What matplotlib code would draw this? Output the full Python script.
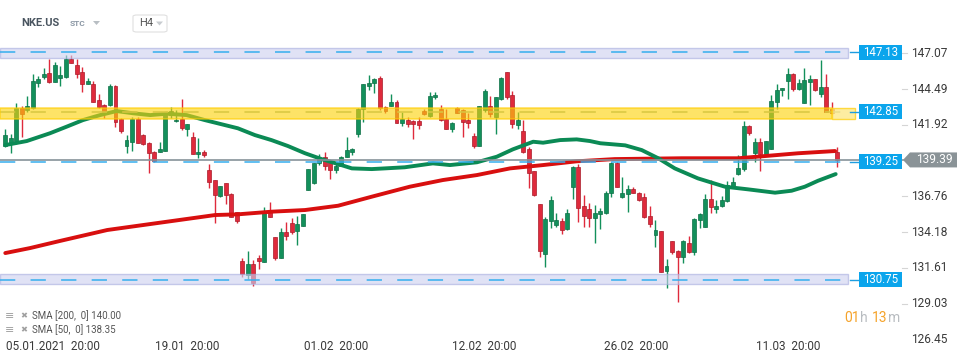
import matplotlib.pyplot as plt
from matplotlib.patches import Rectangle, Polygon, FancyBboxPatch
from matplotlib.transforms import blended_transform_factory as blend

plt.rcParams['font.family'] = ['Roboto', 'DejaVu Sans']

# H4 candles NKE.US, 05.01.2021 - 18.03.2021
opens = [140.37, 140.58, 140.75, 143.15, 142.96, 143.15, 144.95, 145.39, 145.63, 145.03,
         145.32, 145.39, 146.66, 146.23, 145.70, 144.88, 144.86, 143.71, 143.32, 143.35,
         144.71, 142.34, 140.42, 140.70, 142.34, 141.18, 140.58, 139.94, 139.98, 140.06,
         142.63, 142.19, 142.34, 141.62, 141.02, 139.79, 139.96, 138.66, 137.94, 136.81,
         137.70, 136.93, 135.61, 132.11, 131.10, 131.89, 132.32, 132.06, 135.73, 133.81,
         132.35, 134.17, 134.82, 134.29, 134.65, 137.24, 137.75, 139.14, 139.57, 139.26,
         138.66, 138.95, 139.57, 139.96, 141.28, 143.03, 144.71, 144.95, 145.27, 143.23,
         143.30, 143.56, 142.07, 142.26, 142.22, 142.22, 142.91, 142.55, 143.90, 143.06,
         142.31, 141.64, 143.15, 142.99, 142.29, 141.11, 140.41, 142.99, 143.27, 142.50,
         143.75, 145.70, 144.07, 141.90, 141.47, 140.15, 138.59, 136.19, 132.59, 135.01,
         134.68, 134.99, 134.39, 137.41, 138.85, 136.07, 135.83, 135.18, 135.47, 135.54,
         136.98, 139.14, 136.74, 136.91, 137.27, 136.98, 136.74, 135.35, 133.96, 134.27,
         131.41, 133.55, 132.83, 132.37, 133.43, 132.78, 135.06, 134.58, 136.55, 135.88,
         136.09, 136.41, 137.46, 138.35, 138.71, 141.83, 139.91, 140.66, 139.82, 140.20,
         143.59, 144.40, 145.10, 145.58, 144.47, 143.47, 145.03, 145.22, 144.11, 144.62,
         143.03, 139.98]
highs = [141.62, 141.23, 143.47, 143.27, 143.97, 145.58, 145.46, 145.99, 146.66, 146.42,
         146.13, 146.95, 146.95, 146.66, 146.08, 145.27, 145.10, 144.11, 143.39, 144.86,
         144.79, 142.43, 141.18, 142.50, 142.50, 141.23, 140.70, 140.06, 140.68, 142.87,
         143.20, 142.98, 143.78, 141.95, 141.38, 140.94, 140.10, 139.09, 137.94, 137.53,
         137.75, 136.98, 135.66, 132.30, 132.83, 132.18, 132.51, 136.00, 136.33, 133.86,
         134.46, 134.94, 135.18, 135.35, 135.49, 138.77, 139.19, 139.79, 139.94, 139.38,
         139.14, 139.67, 141.02, 140.25, 143.11, 144.86, 145.51, 145.27, 145.43, 143.27,
         144.14, 143.71, 142.86, 142.50, 142.26, 142.46, 143.03, 144.26, 144.26, 143.32,
         143.06, 142.14, 143.23, 143.03, 142.74, 141.30, 143.27, 144.47, 143.99, 143.95,
         145.39, 145.70, 144.35, 142.82, 142.26, 140.30, 138.59, 136.21, 135.30, 136.79,
         135.54, 135.18, 135.83, 138.97, 139.07, 136.86, 136.26, 136.14, 135.90, 137.15,
         139.26, 139.26, 138.18, 137.58, 137.46, 137.10, 137.03, 136.07, 135.06, 134.27,
         132.25, 133.55, 132.90, 133.62, 133.91, 135.18, 135.54, 136.93, 137.94, 136.50,
         136.79, 137.87, 138.18, 139.74, 142.19, 141.93, 140.94, 140.94, 140.78, 144.07,
         144.86, 144.59, 145.99, 145.63, 145.22, 145.99, 145.51, 145.22, 146.59, 145.58,
         143.54, 140.29]
lows = [140.33, 139.86, 140.55, 141.06, 142.87, 143.06, 144.67, 145.19, 144.91, 144.98,
        144.74, 145.32, 146.35, 145.27, 144.31, 144.83, 143.59, 143.10, 142.43, 143.30,
        141.78, 141.35, 139.86, 140.03, 140.58, 140.46, 138.42, 139.21, 139.98, 140.06,
        142.38, 142.10, 141.54, 141.14, 139.79, 139.55, 139.62, 137.39, 134.82, 136.74,
        136.19, 135.25, 134.87, 130.98, 130.83, 130.33, 131.53, 132.06, 135.25, 132.18,
        132.35, 133.62, 134.05, 133.26, 134.65, 137.24, 137.65, 139.02, 138.66, 138.01,
        138.47, 138.95, 139.57, 139.74, 141.06, 142.14, 144.43, 144.23, 142.99, 142.74,
        143.30, 142.07, 141.86, 141.78, 140.90, 141.62, 142.60, 142.50, 143.75, 142.22,
        141.64, 141.42, 142.74, 141.06, 141.66, 140.22, 140.41, 142.86, 142.50, 141.26,
        143.71, 143.80, 141.66, 141.62, 139.91, 137.39, 136.81, 132.42, 131.65, 134.51,
        134.58, 134.03, 134.34, 136.60, 134.94, 134.58, 134.58, 133.38, 134.41, 135.49,
        136.74, 137.46, 136.62, 135.66, 136.98, 136.45, 135.18, 134.53, 133.14, 131.29,
        130.18, 132.59, 129.18, 131.94, 132.66, 132.54, 134.46, 134.58, 135.54, 135.54,
        136.02, 136.38, 137.34, 138.30, 138.61, 141.16, 139.26, 138.61, 139.72, 140.20,
        143.03, 144.02, 143.78, 144.38, 144.43, 143.47, 143.34, 144.38, 143.90, 142.84,
        142.70, 138.90]
closes = [141.18, 140.94, 143.15, 142.67, 143.27, 145.07, 145.22, 145.58, 145.03, 146.23,
          145.51, 146.66, 146.40, 145.60, 144.88, 145.07, 143.59, 143.20, 142.82, 144.71,
          142.14, 141.47, 140.82, 142.34, 140.63, 140.56, 139.86, 139.31, 140.18, 142.74,
          142.94, 142.29, 141.71, 141.95, 139.79, 139.96, 139.74, 137.82, 136.84, 137.51,
          136.84, 135.30, 135.01, 131.17, 131.89, 130.55, 132.08, 135.73, 135.30, 132.35,
          134.17, 133.93, 134.20, 134.77, 135.47, 138.77, 139.14, 139.55, 138.95, 138.66,
          138.95, 139.62, 140.10, 140.20, 143.06, 144.83, 144.93, 145.19, 143.10, 142.94,
          143.56, 142.07, 142.31, 141.98, 141.98, 141.90, 142.67, 143.99, 144.09, 142.26,
          141.64, 142.07, 142.79, 142.14, 142.07, 140.41, 143.25, 144.35, 142.67, 143.90,
          145.27, 143.95, 141.98, 142.26, 139.98, 138.42, 136.86, 132.85, 135.11, 136.50,
          135.06, 134.36, 135.54, 138.85, 135.95, 135.33, 135.23, 135.59, 135.69, 137.03,
          139.14, 137.46, 137.01, 137.27, 137.03, 136.50, 135.26, 134.77, 134.34, 131.34,
          131.75, 132.73, 132.37, 133.55, 132.78, 135.11, 135.49, 136.55, 135.97, 136.09,
          136.50, 137.58, 137.80, 138.78, 141.81, 141.35, 140.66, 139.84, 140.75, 143.63,
          144.43, 144.57, 145.58, 144.47, 144.95, 145.15, 145.24, 144.40, 144.67, 142.86,
          142.74, 139.38]

# moving averages (candle index, price)
sma200_x = [0, 4.5, 9.9, 18.5, 26.3, 38.1, 42.2, 48.3, 54.4, 60.4, 66.5, 73.4, 79.4,
            85.6, 91.6, 97.6, 103.7, 110.6, 122.8, 133.0, 137.9, 143.9, 150.6]
sma200_y = [132.68, 133.04, 133.55, 134.34, 134.77, 135.42, 135.47, 135.66, 135.78,
            136.09, 136.74, 137.46, 137.94, 138.30, 138.78, 139.02, 139.29, 139.45,
            139.51, 139.51, 139.67, 139.87, 140.03]
sma50_x = [0, 3.9, 8.1, 11.1, 14.1, 17.2, 20.2, 23.2, 26.3, 29.3, 32.9, 36.2, 42.2, 45.3,
           48.3, 51.3, 54.4, 57.4, 60.4, 62.9, 66.5, 68.9, 72.5, 77.6, 80.7, 85.6, 89.2,
           92.1, 95.8, 97.6, 100.7, 103.7, 106.1, 108.0, 112.5, 115.5, 118.5, 121.5,
           125.7, 130.6, 134.8, 139.7, 142.7, 145.1, 147.5, 150.7]
sma50_y = [140.46, 140.75, 141.31, 141.78, 142.26, 142.62, 142.91, 142.75, 142.62, 142.72,
           142.62, 142.26, 141.67, 141.18, 140.82, 140.39, 139.87, 139.45, 139.09, 138.78,
           138.73, 138.78, 138.86, 139.14, 139.02, 139.22, 139.62, 140.15, 140.70, 140.63,
           140.82, 140.87, 140.75, 140.59, 140.44, 140.10, 139.51, 138.78, 138.06, 137.46,
           137.27, 137.03, 137.17, 137.46, 137.89, 138.37]

x_tick_pos = [0, 27, 54, 81, 108.5, 136]
x_tick_labels = ['05.01.2021  20:00', '19.01  20:00', '01.02  20:00',
                 '12.02  20:00', '26.02  20:00', '11.03  20:00']
y_tick_vals = [147.07, 144.49, 141.92, 136.76, 134.18, 131.61, 129.03, 126.45]

resistance = [147.13, 130.75]
resistance_band = [(146.71, 147.47), (130.43, 131.15)]
support_mid = 139.25
yellow_level = 142.85
yellow_band = (142.32, 143.15)
last_price = 139.39

W, H = 970, 364


def fx(px):
    return px / W


def fy(py):
    return 1 - py / H


green, green_edge = '#13905b', '#0d6e45'
red, red_edge = '#df2a3c', '#a81c2a'
blue = '#0ba5ec'

fig = plt.figure(figsize=(9.7, 3.64), dpi=100)
ax = fig.add_axes([0, 26 / H, 850 / W, 298 / H])
ax.set_xlim(-0.96, 153.3)
ax.set_ylim(126.56, 148.03)
ax.axis('off')
bt = blend(fig.transFigure, ax.transData)

# candles
for i, (o, h, l, c) in enumerate(zip(opens, highs, lows, closes)):
    up = c >= o
    ax.vlines(i, l, h, color=green if up else red, lw=1, zorder=2)
    ax.bar(i, max(abs(c - o), 0.07), bottom=min(o, c), width=0.72,
           color=green if up else red, edgecolor=green_edge if up else red_edge,
           lw=0.5, zorder=2.1)

ax.plot(sma200_x, sma200_y, color='#d80f0f', lw=2.8, solid_capstyle='round', zorder=3)
ax.plot(sma50_x, sma50_y, color='#0b8a55', lw=2.8, solid_capstyle='round', zorder=3)

# yellow zone
ax.plot([0, fx(850)], [yellow_level] * 2, transform=bt, color='#9db59a', lw=1.1,
        dashes=(10, 10), zorder=3.5, clip_on=False)
ax.add_patch(Rectangle((0, yellow_band[0]), fx(832), yellow_band[1] - yellow_band[0],
                       transform=bt, fc='#fcd20a', ec='#ffcc00', lw=1.2, alpha=0.62,
                       zorder=4, clip_on=False))
ax.add_patch(Rectangle((fx(832), yellow_band[0]), fx(23), yellow_band[1] - yellow_band[0],
                       transform=bt, fc='#fde98a', ec='#ffd21a', lw=1.0, alpha=0.8,
                       zorder=4, clip_on=False))

# lavender zones
for (lo, hi) in resistance_band:
    ax.add_patch(Rectangle((0, lo), fx(848), hi - lo, transform=bt, fc='#cdd1ef',
                           ec='#a9aee0', lw=1.0, alpha=0.62, zorder=4, clip_on=False))
for lvl in resistance + [support_mid]:
    ax.plot([0, fx(850)], [lvl] * 2, transform=bt, color='#35aeee', lw=1.1,
            dashes=(10, 10), zorder=5, clip_on=False)

# current price line
ax.plot([0, fx(903)], [last_price] * 2, transform=bt, color='#86929a', lw=1.2,
        zorder=5, clip_on=False)

# level labels
for lvl in resistance + [yellow_level, support_mid]:
    ax.plot([fx(850), fx(859)], [lvl] * 2, transform=bt, color='#1e9ee0', lw=1,
            zorder=5, clip_on=False)
    ax.add_patch(Rectangle((fx(859), lvl - 0.54), fx(43), 1.08, transform=bt,
                           fc=blue, ec='none', zorder=6, clip_on=False))
    ax.text(fx(880.5), lvl, f'{lvl:.2f}', transform=bt, color='white', fontsize=8.3,
            ha='center', va='center', zorder=7, clip_on=False)

h = 0.54
ax.add_patch(Polygon([(fx(903), last_price), (fx(910), last_price + h), (fx(957), last_price + h),
                      (fx(957), last_price - h), (fx(910), last_price - h)],
                     closed=True, transform=bt, fc='#8a9397', ec='none', zorder=6,
                     clip_on=False))
ax.text(fx(934), last_price, f'{last_price:.2f}', transform=bt, color='white',
        fontsize=8.6, ha='center', va='center', zorder=7, clip_on=False)

# price axis
for v in y_tick_vals:
    if v != y_tick_vals[-1]:
        ax.plot([fx(902), fx(907)], [v, v], transform=bt, color='#d5d5d5', lw=0.8,
                clip_on=False)
    ax.text(fx(911), v, f'{v:.2f}', transform=bt, color='#3a3a3a', fontsize=8.6,
            ha='left', va='center', clip_on=False)

# time axis
tx = blend(ax.transData, fig.transFigure)
for p, lab in zip(x_tick_pos, x_tick_labels):
    ax.text(p + 0.15, fy(346.5), lab, transform=tx, color='#3a3a3a', fontsize=8.5,
            ha='left', va='center', clip_on=False)

# indicator legend
for y, lab in [(316, 'SMA [200,  0] 140.00'), (330, 'SMA [50,  0] 138.35')]:
    fig.text(fx(5), fy(y), '≡', color='#a0a0a0', fontsize=8, va='center',
             family='DejaVu Sans')
    fig.text(fx(20), fy(y), '✖', color='#a0a0a0', fontsize=6, va='center',
             family='DejaVu Sans')
    fig.text(fx(32), fy(y), lab, color='#555555', fontsize=7, va='center')

# countdown "01h 13m", pieces chained one after another
prev = fig.text(fx(844), fy(318), '01', color='#f5a32a', fontsize=10, va='center')
for s, col, gap in [('h', '#b9bdc1', 0.3), ('13', '#f5a32a', 3), ('m', '#b9bdc1', 0.3)]:
    prev = ax.annotate(s, xy=(1, 0.5), xycoords=prev, xytext=(gap, 0),
                       textcoords='offset points', color=col, fontsize=10,
                       ha='left', va='center', annotation_clip=False)

# header
fig.text(fx(21), fy(23), 'NKE.US', color='#4a5560', fontsize=8, fontweight='bold',
         va='center')
fig.text(fx(70), fy(24), 'STC', color='#8d99a6', fontsize=6, fontweight='bold',
         va='center')
fig.add_artist(Polygon([(fx(93), fy(21)), (fx(100), fy(21)), (fx(96.5), fy(25))],
                       closed=True, transform=fig.transFigure, fc='#b8bec3', ec='none'))
fig.add_artist(FancyBboxPatch((fx(133), fy(32)), fx(34), 17 / H,
                              boxstyle='round,pad=0,rounding_size=0.004',
                              transform=fig.transFigure, fc='white', ec='#e0e0e0',
                              lw=0.8))
fig.text(fx(139), fy(23.5), 'H4', color='#555555', fontsize=8, va='center')
fig.add_artist(Polygon([(fx(156), fy(21.5)), (fx(163), fy(21.5)), (fx(159.5), fy(25.5))],
                       closed=True, transform=fig.transFigure, fc='#c8ccd0', ec='none'))

fig.savefig('out.png', dpi=100, facecolor='white')
